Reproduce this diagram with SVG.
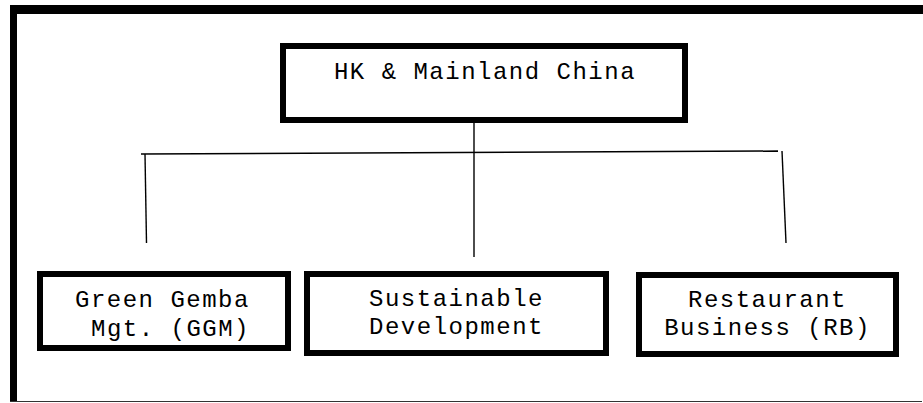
<svg xmlns="http://www.w3.org/2000/svg" width="923" height="403" viewBox="0 0 923 403">
  <style>
    .box { fill: #ffffff; stroke: #000000; stroke-width: 6; }
    .lbl { font-family: "Liberation Mono", "Courier New", monospace; font-size: 24px; letter-spacing: 1.5px; fill: #000000; }
    .mid { text-anchor: middle; }
    .conn { stroke: #000000; stroke-width: 1.4; fill: none; }
  </style>
  <rect x="0" y="0" width="923" height="403" fill="#ffffff"/>
  <g id="frame">
    <line x1="10" y1="9.5" x2="923" y2="9.5" stroke="#000" stroke-width="9"/>
    <line x1="13.5" y1="5" x2="13.5" y2="402" stroke="#000" stroke-width="7"/>
    <line x1="10" y1="401.5" x2="922" y2="401.5" stroke="#333" stroke-width="1.2"/>
  </g>
  <g id="connectors">
    <line class="conn" x1="474" y1="123" x2="474" y2="257"/>
    <line class="conn" x1="141" y1="154" x2="778" y2="151" stroke-width="1.7"/>
    <line class="conn" x1="145" y1="154" x2="146.5" y2="243"/>
    <line class="conn" x1="782" y1="151" x2="786" y2="243"/>
  </g>
  <g id="node-hk">
    <rect class="box" x="283" y="46" width="402" height="74"/>
    <text class="lbl mid" x="485" y="79">HK &amp; Mainland China</text>
  </g>
  <g id="node-ggm">
    <rect class="box" x="40" y="274" width="248" height="74"/>
    <text class="lbl" x="75" y="307">Green Gemba</text>
    <text class="lbl" x="91" y="336">Mgt. (GGM)</text>
  </g>
  <g id="node-sd">
    <rect class="box" x="307" y="274" width="299" height="79"/>
    <text class="lbl mid" x="456.5" y="305.5">Sustainable</text>
    <text class="lbl mid" x="456.5" y="333.5">Development</text>
  </g>
  <g id="node-rb">
    <rect class="box" x="639" y="275" width="257" height="79"/>
    <text class="lbl mid" x="767.5" y="307">Restaurant</text>
    <text class="lbl mid" x="767.5" y="335">Business (RB)</text>
  </g>
</svg>
